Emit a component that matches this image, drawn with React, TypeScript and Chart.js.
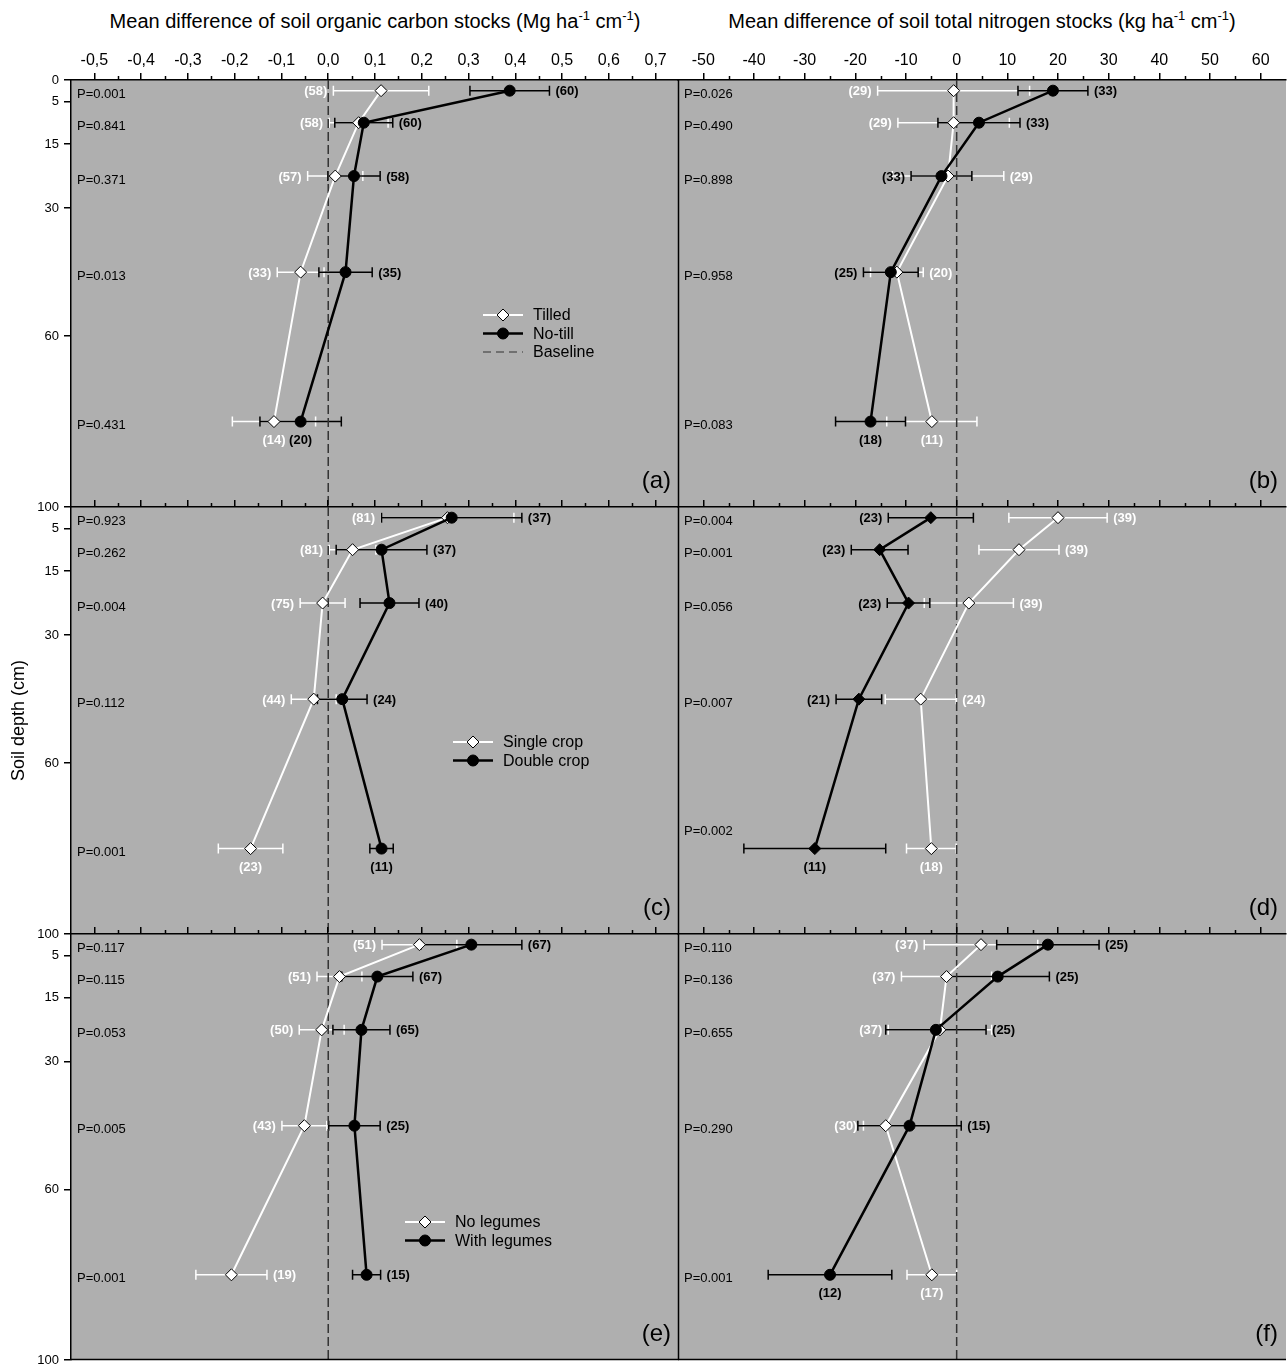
import React, { useEffect, useRef } from 'react';
import { Chart, registerables } from 'chart.js';

Chart.register(...registerables);

const FONT = '"Liberation Sans", Arial, Helvetica, sans-serif';
const PANEL_GRAY = '#afafaf';

// ---------- shared axes ----------
const depths = [2.5, 10, 22.5, 45, 80];
const depthTicksFirstRow = [0, 5, 15, 30, 60, 100];
const depthTicksOtherRows = [5, 15, 30, 60, 100];

const socTicks = [-0.5, -0.4, -0.3, -0.2, -0.1, 0, 0.1, 0.2, 0.3, 0.4, 0.5, 0.6, 0.7];
const socTickLabels = ['-0,5', '-0,4', '-0,3', '-0,2', '-0,1', '0,0', '0,1', '0,2', '0,3', '0,4', '0,5', '0,6', '0,7'];
const tnTicks = [-50, -40, -30, -20, -10, 0, 10, 20, 30, 40, 50, 60];
const tnTickLabels = ['-50', '-40', '-30', '-20', '-10', '0', '10', '20', '30', '40', '50', '60'];

// ---------- (a) tillage, SOC ----------
const tilledSOC = [0.113, 0.065, 0.015, -0.059, -0.116];
const tilledSOCErr = [0.102, 0.063, 0.059, 0.05, 0.089];
const tilledSOCN = [58, 58, 57, 33, 14];
const noTillSOC = [0.388, 0.076, 0.055, 0.037, -0.059];
const noTillSOCErr = [0.085, 0.062, 0.056, 0.057, 0.087];
const noTillSOCN = [60, 60, 58, 35, 20];
const tillageSOCP = ['0.001', '0.841', '0.371', '0.013', '0.431'];

// ---------- (b) tillage, TN ----------
const tilledTN = [-0.6, -0.6, -1.7, -11.8, -4.9];
const tilledTNErr = [15, 11, 11, 5.2, 8.9];
const tilledTNN = [29, 29, 29, 20, 11];
const noTillTN = [19.0, 4.4, -3.0, -13.0, -17.0];
const noTillTNErr = [6.9, 8.1, 6.0, 5.4, 6.9];
const noTillTNN = [33, 33, 33, 25, 18];
const tillageTNP = ['0.026', '0.490', '0.898', '0.958', '0.083'];

// ---------- (c) cropping, SOC ----------
const singleSOC = [0.255, 0.052, -0.012, -0.031, -0.166];
const singleSOCErr = [0.142, 0.05, 0.048, 0.048, 0.069];
const singleSOCN = [81, 81, 75, 44, 23];
const doubleSOC = [0.264, 0.114, 0.131, 0.03, 0.114];
const doubleSOCErr = [0.15, 0.097, 0.063, 0.053, 0.025];
const doubleSOCN = [37, 37, 40, 24, 11];
const croppingSOCP = ['0.923', '0.262', '0.004', '0.112', '0.001'];

// ---------- (d) cropping, TN ----------
const singleTN = [20.0, 12.3, 2.4, -7.1, -5.0];
const singleTNErr = [9.7, 7.9, 8.8, 7.0, 4.9];
const singleTNN = [39, 39, 39, 24, 18];
const doubleTN = [-5.1, -15.2, -9.5, -19.3, -28.0];
const doubleTNErr = [8.4, 5.6, 4.2, 4.5, 14];
const doubleTNN = [23, 23, 23, 21, 11];
const croppingTNP = ['0.004', '0.001', '0.056', '0.007', '0.002'];
const croppingTNPDepths = [2.5, 10, 22.5, 45, 75];

// ---------- (e) legumes, SOC ----------
const noLegSOC = [0.195, 0.024, -0.014, -0.051, -0.207];
const noLegSOCErr = [0.08, 0.048, 0.048, 0.048, 0.076];
const noLegSOCN = [51, 51, 50, 43, 19];
const withLegSOC = [0.306, 0.105, 0.071, 0.056, 0.082];
const withLegSOCErr = [0.108, 0.076, 0.061, 0.055, 0.03];
const withLegSOCN = [67, 67, 65, 25, 15];
const legumeSOCP = ['0.117', '0.115', '0.053', '0.005', '0.001'];

// ---------- (f) legumes, TN ----------
const noLegTN = [4.8, -2.0, -3.3, -14.0, -4.9];
const noLegTNErr = [11.2, 8.9, 10.2, 4.4, 4.9];
const noLegTNN = [37, 37, 37, 30, 17];
const withLegTN = [18.0, 8.1, -4.1, -9.3, -25.0];
const withLegTNErr = [10.1, 10.2, 9.9, 10.2, 12.2];
const withLegTNN = [25, 25, 25, 15, 12];
const legumeTNP = ['0.110', '0.136', '0.655', '0.290', '0.001'];

type Side = 'L' | 'R' | 'B';
type Shape = 'circle' | 'rectRot';

interface SeriesSpec {
  name: string;
  values: number[];
  errors: number[];
  n: number[];
  sides: Side[];
  color: string;
  shape: Shape;
}

interface PanelSpec {
  key: string;
  letter: string;
  col: number;
  row: number;
  kind: 'soc' | 'tn';
  white: SeriesSpec;
  black: SeriesSpec;
  pValues: string[];
  pDepths: number[];
  legend: null | { dx: number; dy: number; baseline: boolean };
}

const sidesWL: Side[] = ['L', 'L', 'L', 'L', 'B'];
const sidesBR: Side[] = ['R', 'R', 'R', 'R', 'B'];

const W = (name: string, values: number[], errors: number[], n: number[], sides: Side[]): SeriesSpec => ({
  name, values, errors, n, sides, color: '#ffffff', shape: 'rectRot',
});
const B = (name: string, values: number[], errors: number[], n: number[], sides: Side[], shape: Shape = 'circle'): SeriesSpec => ({
  name, values, errors, n, sides, color: '#000000', shape,
});

const PANELS: PanelSpec[] = [
  {
    key: 'a', letter: '(a)', col: 0, row: 0, kind: 'soc',
    white: W('Tilled', tilledSOC, tilledSOCErr, tilledSOCN, sidesWL),
    black: B('No-till', noTillSOC, noTillSOCErr, noTillSOCN, sidesBR),
    pValues: tillageSOCP, pDepths: depths,
    legend: { dx: 412, dy: 235, baseline: true },
  },
  {
    key: 'b', letter: '(b)', col: 1, row: 0, kind: 'tn',
    white: W('Tilled', tilledTN, tilledTNErr, tilledTNN, ['L', 'L', 'R', 'R', 'B']),
    black: B('No-till', noTillTN, noTillTNErr, noTillTNN, ['R', 'R', 'L', 'L', 'B']),
    pValues: tillageTNP, pDepths: depths, legend: null,
  },
  {
    key: 'c', letter: '(c)', col: 0, row: 1, kind: 'soc',
    white: W('Single crop', singleSOC, singleSOCErr, singleSOCN, sidesWL),
    black: B('Double crop', doubleSOC, doubleSOCErr, doubleSOCN, sidesBR),
    pValues: croppingSOCP, pDepths: depths,
    legend: { dx: 382, dy: 235, baseline: false },
  },
  {
    key: 'd', letter: '(d)', col: 1, row: 1, kind: 'tn',
    white: W('Single crop', singleTN, singleTNErr, singleTNN, ['R', 'R', 'R', 'R', 'B']),
    black: B('Double crop', doubleTN, doubleTNErr, doubleTNN, ['L', 'L', 'L', 'L', 'B'], 'rectRot'),
    pValues: croppingTNP, pDepths: croppingTNPDepths, legend: null,
  },
  {
    key: 'e', letter: '(e)', col: 0, row: 2, kind: 'soc',
    white: W('No legumes', noLegSOC, noLegSOCErr, noLegSOCN, ['L', 'L', 'L', 'L', 'R']),
    black: B('With legumes', withLegSOC, withLegSOCErr, withLegSOCN, ['R', 'R', 'R', 'R', 'R']),
    pValues: legumeSOCP, pDepths: depths,
    legend: { dx: 334, dy: 288, baseline: false },
  },
  {
    key: 'f', letter: '(f)', col: 1, row: 2, kind: 'tn',
    white: W('No legumes', noLegTN, noLegTNErr, noLegTNN, sidesWL),
    black: B('With legumes', withLegTN, withLegTNErr, withLegTNN, sidesBR),
    pValues: legumeTNP, pDepths: depths, legend: null,
  },
];

// ---------- layout ----------
const COLS = [
  { left: 0, width: 679, padL: 0, padR: 0 },
  { left: 677, width: 610, padL: 1, padR: 1 },
];
const ROWS = [
  { top: 40, height: 477, axisH: 40, padB: 10 },
  { top: 497, height: 447, axisH: 10, padB: 10 },
  { top: 924, height: 452, axisH: 10, padB: 16 },
];

function markerPath(ctx: CanvasRenderingContext2D, shape: Shape, x: number, y: number, r: number) {
  ctx.beginPath();
  if (shape === 'circle') {
    ctx.arc(x, y, r, 0, Math.PI * 2);
  } else {
    ctx.moveTo(x - r, y);
    ctx.lineTo(x, y - r);
    ctx.lineTo(x + r, y);
    ctx.lineTo(x, y + r);
    ctx.closePath();
  }
}

function zeroPadding(s: any) {
  s.paddingLeft = 0;
  s.paddingRight = 0;
  s.paddingTop = 0;
  s.paddingBottom = 0;
}

function makeDeco(spec: PanelSpec) {
  const isSoc = spec.kind === 'soc';
  const ticks = isSoc ? socTicks : tnTicks;
  const minor: number[] = [];
  for (let i = 0; i < ticks.length - 1; i++) minor.push((ticks[i] + ticks[i + 1]) / 2);

  return {
    id: 'deco_' + spec.key,
    beforeDraw(chart: any) {
      const { ctx, chartArea: a } = chart;
      ctx.save();
      ctx.fillStyle = PANEL_GRAY;
      ctx.fillRect(a.left, a.top, a.right - a.left, a.bottom - a.top);
      ctx.restore();
    },
    beforeDatasetsDraw(chart: any) {
      const { ctx } = chart;
      const xs = chart.scales.x;
      const ys = chart.scales.y;
      [spec.white, spec.black].forEach((s) => {
        ctx.save();
        ctx.strokeStyle = s.color;
        ctx.lineWidth = 1.5;
        depths.forEach((d, i) => {
          const y = ys.getPixelForValue(d);
          const x1 = xs.getPixelForValue(s.values[i] - s.errors[i]);
          const x2 = xs.getPixelForValue(s.values[i] + s.errors[i]);
          ctx.beginPath();
          ctx.moveTo(x1, y);
          ctx.lineTo(x2, y);
          ctx.moveTo(x1, y - 5);
          ctx.lineTo(x1, y + 5);
          ctx.moveTo(x2, y - 5);
          ctx.lineTo(x2, y + 5);
          ctx.stroke();
        });
        ctx.restore();
      });
    },
    afterDraw(chart: any) {
      const { ctx, chartArea: a } = chart;
      const xs = chart.scales.x;
      const ys = chart.scales.y;
      ctx.save();
      ctx.strokeStyle = '#000';
      ctx.lineWidth = 1.5;
      minor.forEach((m) => {
        const x = Math.round(xs.getPixelForValue(m)) + 0.5;
        ctx.beginPath();
        ctx.moveTo(x, a.top);
        ctx.lineTo(x, a.top - 4);
        ctx.stroke();
      });
      if (spec.col === 1) {
        ctx.beginPath();
        ctx.moveTo(a.left + 0.5, a.top);
        ctx.lineTo(a.left + 0.5, a.bottom);
        ctx.stroke();
      }
      if (spec.row === 2) {
        ctx.beginPath();
        ctx.moveTo(a.left, a.bottom - 0.5);
        ctx.lineTo(a.right, a.bottom - 0.5);
        ctx.stroke();
      }

      ctx.font = `bold 13px ${FONT}`;
      ctx.textBaseline = 'middle';
      [spec.white, spec.black].forEach((s) => {
        ctx.fillStyle = s.color;
        depths.forEach((d, i) => {
          const y = ys.getPixelForValue(d);
          const xp = xs.getPixelForValue(s.values[i]);
          const x1 = xs.getPixelForValue(s.values[i] - s.errors[i]);
          const x2 = xs.getPixelForValue(s.values[i] + s.errors[i]);
          const txt = `(${s.n[i]})`;
          const side = s.sides[i];
          if (side === 'L') {
            ctx.textAlign = 'right';
            ctx.fillText(txt, x1 - 6, y + 1);
          } else if (side === 'R') {
            ctx.textAlign = 'left';
            ctx.fillText(txt, x2 + 6, y + 1);
          } else {
            ctx.textAlign = 'center';
            ctx.fillText(txt, xp, y + 19);
          }
        });
      });

      ctx.font = `13px ${FONT}`;
      ctx.fillStyle = '#000';
      ctx.textAlign = 'left';
      ctx.textBaseline = 'middle';
      spec.pValues.forEach((p, i) => {
        const y = ys.getPixelForValue(spec.pDepths[i]);
        ctx.fillText(`P=${p}`, a.left + 6, y + 4);
      });

      ctx.font = `24px ${FONT}`;
      ctx.textAlign = 'right';
      ctx.textBaseline = 'middle';
      ctx.fillText(spec.letter, a.right - 8, a.bottom - 26);

      if (spec.legend) {
        const L = spec.legend;
        const x0 = a.left + L.dx;
        const y0 = a.top + L.dy;
        const entries: { label: string; draw: (y: number) => void }[] = [];
        [spec.white, spec.black].forEach((s) => {
          entries.push({
            label: s.name,
            draw: (y: number) => {
              ctx.strokeStyle = s.color;
              ctx.lineWidth = s.color === '#ffffff' ? 2 : 2.5;
              ctx.setLineDash([]);
              ctx.beginPath();
              ctx.moveTo(x0, y);
              ctx.lineTo(x0 + 40, y);
              ctx.stroke();
              markerPath(ctx, s.shape, x0 + 20, y, s.shape === 'circle' ? 5.5 : 6);
              ctx.fillStyle = s.color;
              ctx.fill();
              ctx.strokeStyle = '#000';
              ctx.lineWidth = 1;
              ctx.stroke();
            },
          });
        });
        if (L.baseline) {
          entries.push({
            label: 'Baseline',
            draw: (y: number) => {
              ctx.strokeStyle = '#333';
              ctx.lineWidth = 1.2;
              ctx.setLineDash([8, 5]);
              ctx.beginPath();
              ctx.moveTo(x0, y);
              ctx.lineTo(x0 + 40, y);
              ctx.stroke();
              ctx.setLineDash([]);
            },
          });
        }
        entries.forEach((e, i) => {
          const y = y0 + i * 18.5;
          e.draw(y);
          ctx.fillStyle = '#000';
          ctx.font = `16px ${FONT}`;
          ctx.textAlign = 'left';
          ctx.textBaseline = 'middle';
          ctx.fillText(e.label, x0 + 50, y + 1);
        });
      }
      ctx.restore();
    },
  };
}

function buildConfig(spec: PanelSpec): any {
  const isSoc = spec.kind === 'soc';
  const col = COLS[spec.col];
  const row = ROWS[spec.row];
  const xTicks = isSoc ? socTicks : tnTicks;
  const xLabels = isSoc ? socTickLabels : tnTickLabels;
  const isLeft = spec.col === 0;
  const toPts = (vals: number[]) => depths.map((d, i) => ({ x: vals[i], y: d }));

  return {
    type: 'scatter',
    data: {
      datasets: [
        {
          label: spec.black.name,
          data: toPts(spec.black.values),
          showLine: true,
          borderColor: '#000',
          borderWidth: 2.5,
          pointStyle: spec.black.shape,
          pointRadius: spec.black.shape === 'circle' ? 5.5 : 6,
          pointBackgroundColor: '#000',
          pointBorderColor: '#000',
          pointBorderWidth: 1,
          order: 0,
        },
        {
          label: spec.white.name,
          data: toPts(spec.white.values),
          showLine: true,
          borderColor: '#fff',
          borderWidth: 2,
          pointStyle: 'rectRot',
          pointRadius: 6,
          pointBackgroundColor: '#fff',
          pointBorderColor: '#000',
          pointBorderWidth: 1,
          order: 1,
        },
        {
          label: 'Baseline',
          data: [{ x: 0, y: 0 }, { x: 0, y: 100 }],
          showLine: true,
          borderColor: '#333',
          borderWidth: 1.5,
          borderDash: [9, 4],
          pointRadius: 0,
          order: 2,
        },
      ],
    },
    options: {
      responsive: false,
      animation: false,
      events: [],
      layout: { autoPadding: false, padding: { left: col.padL, right: col.padR, top: 0, bottom: row.padB } },
      plugins: { legend: { display: false }, tooltip: { enabled: false }, title: { display: false } },
      scales: {
        x: {
          type: 'linear',
          position: 'top',
          min: isSoc ? -0.55 : -55,
          max: isSoc ? 0.75 : 65,
          afterBuildTicks: (s: any) => {
            s.ticks = xTicks.map((v) => ({ value: v }));
          },
          afterFit: (s: any) => {
            s.height = row.axisH;
            zeroPadding(s);
          },
          ticks: {
            display: spec.row === 0,
            autoSkip: false,
            maxRotation: 0,
            padding: 3,
            color: '#000',
            font: { family: FONT, size: 16 },
            callback: (_v: any, i: number) => xLabels[i],
          },
          grid: { drawOnChartArea: false, drawTicks: true, tickLength: 7, color: '#000', lineWidth: 1.5 },
          border: { display: true, color: '#000', width: 1.5 },
        },
        y: {
          type: 'linear',
          reverse: true,
          min: 0,
          max: 100,
          display: isLeft,
          afterBuildTicks: (s: any) => {
            s.ticks = (spec.row === 0 ? depthTicksFirstRow : depthTicksOtherRows).map((v) => ({ value: v }));
          },
          afterFit: (s: any) => {
            s.width = isLeft ? 71 : 0;
            zeroPadding(s);
          },
          ticks: { autoSkip: false, padding: 5, color: '#000', font: { family: FONT, size: 13 } },
          grid: { drawOnChartArea: false, drawTicks: true, tickLength: 7, color: '#000', lineWidth: 1.5 },
          border: { display: true, color: '#000', width: 1.5 },
          title: {
            display: spec.row === 1,
            text: 'Soil depth (cm)',
            color: '#000',
            font: { family: FONT, size: 18 },
            padding: { top: 8, bottom: 0 },
          },
        },
      },
    },
    plugins: [makeDeco(spec)],
  };
}

function Panel({ spec }: { spec: PanelSpec }) {
  const ref = useRef<HTMLCanvasElement | null>(null);
  useEffect(() => {
    if (!ref.current) return;
    const chart = new Chart(ref.current, buildConfig(spec));
    return () => chart.destroy();
  }, [spec]);
  const c = COLS[spec.col];
  const r = ROWS[spec.row];
  return (
    <canvas
      ref={ref}
      width={c.width}
      height={r.height}
      style={{ position: 'absolute', left: c.left, top: r.top, width: c.width, height: r.height }}
    />
  );
}

const supStyle: React.CSSProperties = { fontSize: 13, position: 'relative', top: -8, lineHeight: 0 };

export default function App() {
  return (
    <div
      style={{
        position: 'absolute',
        left: 0,
        top: 0,
        width: 1287,
        height: 1366,
        overflow: 'hidden',
        background: '#fff',
        fontFamily: FONT,
      }}
    >
      <div
        style={{
          position: 'absolute', left: 71, top: 9, width: 608, textAlign: 'center',
          fontSize: 20, lineHeight: '24px', color: '#000', whiteSpace: 'nowrap',
        }}
      >
        Mean difference of soil organic carbon stocks (Mg ha<span style={supStyle}>-1</span> cm<span style={supStyle}>-1</span>)
      </div>
      <div
        style={{
          position: 'absolute', left: 678, top: 9, width: 608, textAlign: 'center',
          fontSize: 20, lineHeight: '24px', color: '#000', whiteSpace: 'nowrap',
        }}
      >
        Mean difference of soil total nitrogen stocks (kg ha<span style={supStyle}>-1</span> cm<span style={supStyle}>-1</span>)
      </div>
      {PANELS.map((p) => (
        <Panel key={p.key} spec={p} />
      ))}
    </div>
  );
}
